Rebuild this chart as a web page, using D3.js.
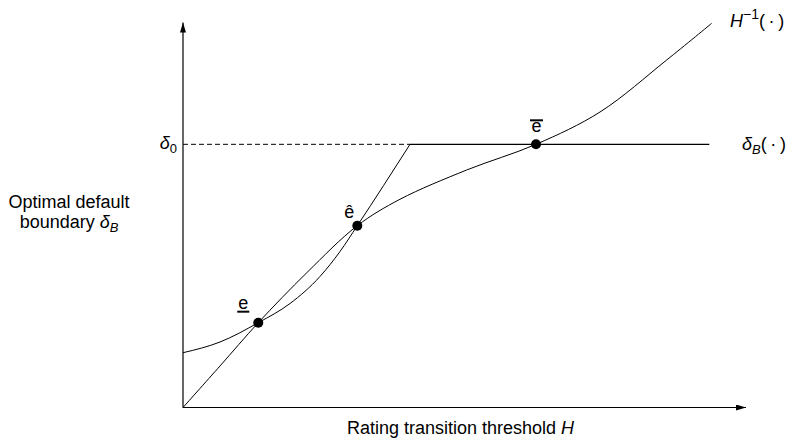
<!DOCTYPE html>
<html>
<head>
<meta charset="utf-8">
<script src="https://cdn.jsdelivr.net/npm/d3@7"></script>
<style>
  html, body { margin: 0; padding: 0; background: #fff; }
  svg { display: block; font-family: "Liberation Sans", Arial, Helvetica, sans-serif; }
</style>
</head>
<body>
<svg id="chart" width="794" height="439"></svg>
<script>
// Inverse rating map H^{-1}(.) : S-shaped, starts at the origin
const inverseH = [
  [0.000, 0.000], [0.657, 1.078], [1.337, 2.203], [2.202, 3.506],
  [3.096, 4.722], [3.854, 5.408], [5.039, 6.169], [6.270, 6.836],
  [7.407, 7.675], [8.591, 9.026], [9.391, 9.979]
];
// Optimal default boundary delta_B(.) : convex part, then capped at delta_0
const boundaryCurve = [
  [0.000, 1.423], [0.657, 1.701], [1.337, 2.203], [1.901, 2.701],
  [2.433, 3.403], [2.789, 4.052], [3.096, 4.722], [4.032, 6.836]
];
const delta0 = 6.836;
const capStart = 4.032;
const capEnd = 9.348;
// Equilibria (intersections of the two curves)
const equilibria = [
  { name: "low",  H: 1.337, d: 2.203 },
  { name: "hat",  H: 3.096, d: 4.722 },
  { name: "bar",  H: 6.270, d: 6.836 }
];

const svg = d3.select("#chart");
const x = d3.scaleLinear().domain([0, 10]).range([183, 746]);
const y = d3.scaleLinear().domain([0, 10]).range([407.5, 22.5]);

// Arrowhead marker
const defs = svg.append("defs");
defs.append("marker")
  .attr("id", "arrow").attr("viewBox", "0 0 10 6")
  .attr("refX", 10).attr("refY", 3)
  .attr("markerWidth", 10).attr("markerHeight", 6)
  .attr("markerUnits", "userSpaceOnUse")
  .attr("orient", "auto")
  .append("path").attr("d", "M0,0 L10,3 L0,6 Z").attr("fill", "#000");

// Axes
svg.append("line")
  .attr("x1", x(0)).attr("y1", y(0)).attr("x2", x(0)).attr("y2", y(10))
  .attr("stroke", "#000").attr("stroke-width", 1.2).attr("marker-end", "url(#arrow)");
svg.append("line")
  .attr("x1", x(0)).attr("y1", y(0)).attr("x2", x(10)).attr("y2", y(0))
  .attr("stroke", "#000").attr("stroke-width", 1.2).attr("marker-end", "url(#arrow)");

// Dashed guide at delta_0
svg.append("line")
  .attr("x1", x(0)).attr("x2", x(capStart))
  .attr("y1", y(delta0)).attr("y2", y(delta0))
  .attr("stroke", "#000").attr("stroke-width", 1).attr("stroke-dasharray", "5,3");

const line = d3.line().x(d => x(d[0])).y(d => y(d[1]));

// H^{-1}(.)
svg.append("path")
  .attr("d", line.curve(d3.curveCatmullRom.alpha(0.5))(inverseH))
  .attr("fill", "none").attr("stroke", "#000").attr("stroke-width", 1);

// delta_B(.) rising part
svg.append("path")
  .attr("d", line.curve(d3.curveMonotoneX)(boundaryCurve))
  .attr("fill", "none").attr("stroke", "#000").attr("stroke-width", 1);
// delta_B(.) flat part
svg.append("path")
  .attr("d", line.curve(d3.curveLinear)([[capStart, delta0], [capEnd, delta0]]))
  .attr("fill", "none").attr("stroke", "#000").attr("stroke-width", 1.2);

// Equilibrium dots
svg.selectAll("circle.eq").data(equilibria).join("circle")
  .attr("class", "eq")
  .attr("cx", d => x(d.H)).attr("cy", d => y(d.d)).attr("r", 5)
  .attr("fill", "#000");

// Equilibrium labels
const fs = 18;
const eLow = equilibria[0], eHat = equilibria[1], eBar = equilibria[2];
svg.append("text").attr("x", x(eLow.H) - 15).attr("y", y(eLow.d) - 14)
  .attr("text-anchor", "middle").attr("font-size", fs).text("e");
svg.append("line")
  .attr("x1", x(eLow.H) - 21).attr("x2", x(eLow.H) - 9)
  .attr("y1", y(eLow.d) - 11).attr("y2", y(eLow.d) - 11)
  .attr("stroke", "#000").attr("stroke-width", 2);

svg.append("text").attr("x", x(eHat.H) - 8).attr("y", y(eHat.d) - 8)
  .attr("text-anchor", "middle").attr("font-size", fs).text("ê");

svg.append("text").attr("x", x(eBar.H) + 0.5).attr("y", y(eBar.d) - 12.5)
  .attr("text-anchor", "middle").attr("font-size", fs).text("e");
svg.append("line")
  .attr("x1", x(eBar.H) - 6).attr("x2", x(eBar.H) + 7)
  .attr("y1", y(eBar.d) - 24).attr("y2", y(eBar.d) - 24)
  .attr("stroke", "#000").attr("stroke-width", 2);

// delta_0 tick label
const d0 = svg.append("text").attr("x", x(0) - 6).attr("y", y(delta0) + 5)
  .attr("text-anchor", "end").attr("font-size", fs);
d0.append("tspan").attr("font-style", "italic").text("δ");
d0.append("tspan").attr("font-size", 13).attr("dy", 4).text("0");

// Curve labels
const hl = svg.append("text").attr("x", 730).attr("y", 27).attr("font-size", fs);
hl.append("tspan").attr("font-style", "italic").text("H");
hl.append("tspan").attr("font-size", 14).attr("dy", -8).text("−1");
hl.append("tspan").attr("dy", 8).text("(\u2009·\u2009)");

const bl = svg.append("text").attr("x", 742).attr("y", y(delta0) + 6).attr("font-size", fs);
bl.append("tspan").attr("font-style", "italic").text("δ");
bl.append("tspan").attr("font-style", "italic").attr("font-size", 13).attr("dy", 4).text("B");
bl.append("tspan").attr("dy", -4).text("(\u2009·\u2009)");

// Axis titles
svg.append("text").attr("x", 69).attr("y", 208)
  .attr("text-anchor", "middle").attr("font-size", fs).text("Optimal default");
const yl = svg.append("text").attr("x", 69).attr("y", 228)
  .attr("text-anchor", "middle").attr("font-size", fs);
yl.append("tspan").text("boundary ");
yl.append("tspan").attr("font-style", "italic").text("δ");
yl.append("tspan").attr("font-style", "italic").attr("font-size", 13).attr("dy", 4).text("B");

const xl = svg.append("text").attr("x", 460.5).attr("y", 434)
  .attr("text-anchor", "middle").attr("font-size", fs);
xl.append("tspan").text("Rating transition threshold ");
xl.append("tspan").attr("font-style", "italic").text("H");
</script>
</body>
</html>
